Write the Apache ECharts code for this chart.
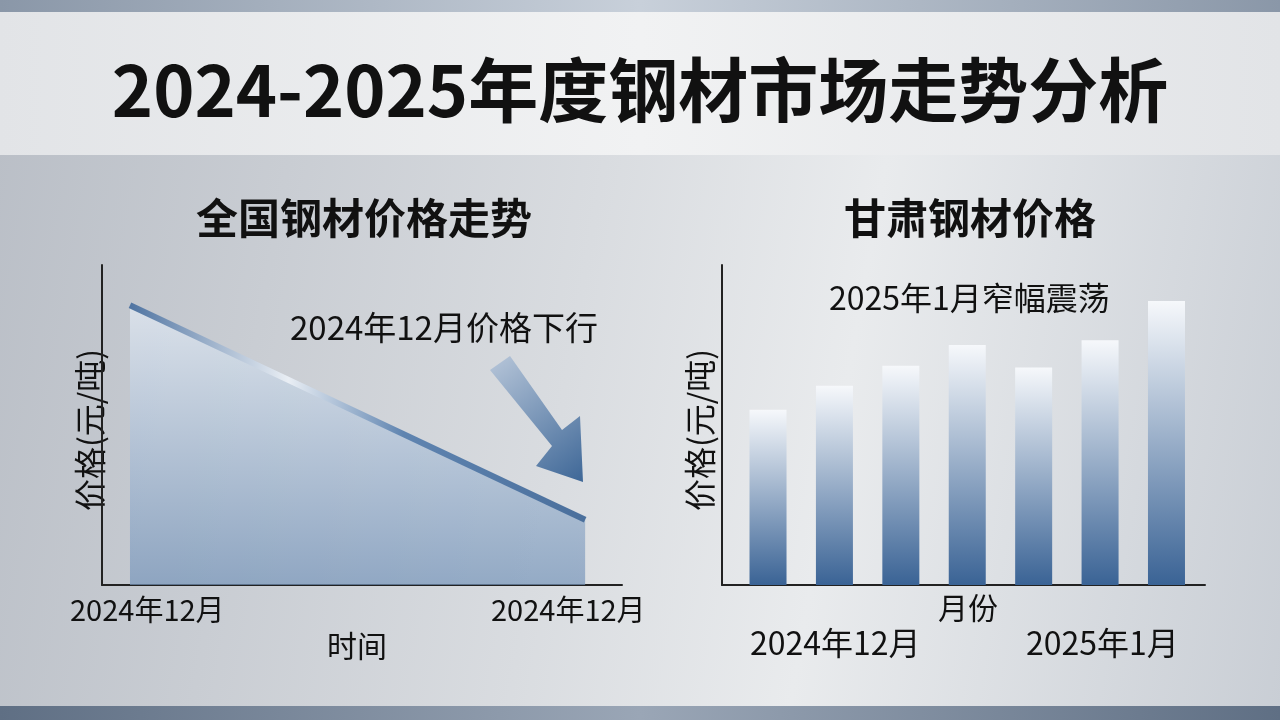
<!DOCTYPE html>
<html><head><meta charset="utf-8">
<script src="https://cdn.jsdelivr.net/npm/echarts@6/dist/echarts.min.js"></script>
<style>
html,body{margin:0;padding:0;}
body{width:1280px;height:720px;overflow:hidden;
background:linear-gradient(100deg,#b9bec6 0%,#d9dce0 45%,#e9ebed 65%,#c9ced5 100%);position:relative;}
#top{position:absolute;left:0;top:0;width:1280px;height:12px;background:linear-gradient(90deg,#8a97a8,#c8d0da,#8a97a8);}
#band{position:absolute;left:0;top:12px;width:1280px;height:143px;background:linear-gradient(90deg,#e2e4e7,#f1f2f3,#e2e4e7);}
#bot{position:absolute;left:0;top:706px;width:1280px;height:14px;background:linear-gradient(90deg,#5f6f84,#9aa6b6,#5f6f84);}
#c{position:absolute;left:0;top:0;width:1280px;height:720px;}
</style></head><body>
<div id="top"></div><div id="band"></div><div id="bot"></div>
<div id="c"></div>
<script>
// 全国钢材价格走势
const nationalX = [0, 1];
const nationalPrice = [3937, 3602];
// 甘肃钢材价格
const gansuIdx = [0, 1, 2, 3, 4, 5, 6];
const gansuPrice = [3719, 3749, 3774, 3800, 3772, 3806, 3855];

const font = '"Noto Sans CJK SC", sans-serif';
const chart = echarts.init(document.getElementById('c'));
const axisLine = { show: true, onZero: false, lineStyle: { color: '#222', width: 2 } };
const hidden = { axisTick: { show: false }, axisLabel: { show: false }, splitLine: { show: false } };

chart.setOption({
    backgroundColor: 'transparent',
    textStyle: { fontFamily: font },
    title: [
        { text: '2024-2025年度钢材市场走势分析', left: 'center', top: 50,
          textStyle: { fontSize: 70, fontWeight: 'bold', color: '#111', fontFamily: font } },
        { text: '全国钢材价格走势', left: 359, textAlign: 'center', top: 192,
          textStyle: { fontSize: 42, fontWeight: 'bold', color: '#111', fontFamily: font } },
        { text: '甘肃钢材价格', left: 965, textAlign: 'center', top: 192,
          textStyle: { fontSize: 42, fontWeight: 'bold', color: '#111', fontFamily: font } }
    ],
    grid: [
        { left: 102, top: 265, width: 520, height: 320 },
        { left: 722, top: 265, width: 483, height: 320 }
    ],
    xAxis: [
        { type: 'value', gridIndex: 0, min: -0.0615, max: 1.081, axisLine, ...hidden },
        { type: 'value', gridIndex: 1, min: -0.693, max: 6.58, axisLine, ...hidden }
    ],
    yAxis: [
        { type: 'value', gridIndex: 0, min: 3500, max: 4000, axisLine, ...hidden },
        { type: 'value', gridIndex: 1, min: 3500, max: 3900, axisLine, ...hidden }
    ],
    series: [
        {
            type: 'line', xAxisIndex: 0, yAxisIndex: 0, symbol: 'none',
            data: nationalX.map((x, i) => [x, nationalPrice[i]]),
            lineStyle: { width: 6, color: new echarts.graphic.LinearGradient(0, 0, 1, 0, [
                { offset: 0, color: '#4d72a0' }, { offset: 0.35, color: '#e9eef4' },
                { offset: 0.6, color: '#5f84b0' }, { offset: 1, color: '#4a6f9c' }]) },
            areaStyle: { origin: 'start', color: new echarts.graphic.LinearGradient(0, 0, 0, 1, [
                { offset: 0, color: '#e3ebf4' }, { offset: 1, color: '#7594b9' }]) }
        },
        {
            type: 'bar', xAxisIndex: 1, yAxisIndex: 1, barWidth: 37,
            data: gansuIdx.map((x, i) => [x, gansuPrice[i]]),
            itemStyle: { color: new echarts.graphic.LinearGradient(0, 0, 0, 1, [
                { offset: 0, color: '#f6f8fb' }, { offset: 1, color: '#3a6395' }]) }
        }
    ],
    graphic: [
        { type: 'text', left: 70, top: 595, style: { text: '2024年12月', fontSize: 29, fill: '#111', fontFamily: font } },
        { type: 'text', left: 491, top: 595, style: { text: '2024年12月', fontSize: 29, fill: '#111', fontFamily: font } },
        { type: 'text', left: 327, top: 631, style: { text: '时间', fontSize: 30, fill: '#111', fontFamily: font } },
        { type: 'text', x: 90, y: 430, rotation: Math.PI / 2,
          style: { text: '价格(元/吨)', fontSize: 32, fill: '#111', fontFamily: font, align: 'center', verticalAlign: 'middle' } },
        { type: 'text', x: 700, y: 430, rotation: Math.PI / 2,
          style: { text: '价格(元/吨)', fontSize: 32, fill: '#111', fontFamily: font, align: 'center', verticalAlign: 'middle' } },
        { type: 'text', left: 290, top: 311, style: { text: '2024年12月价格下行', fontSize: 33, fill: '#111', fontFamily: font } },
        { type: 'text', left: 829, top: 282, style: { text: '2025年1月窄幅震荡', fontSize: 32, fill: '#111', fontFamily: font } },
        { type: 'text', left: 938, top: 593, style: { text: '月份', fontSize: 30, fill: '#111', fontFamily: font } },
        { type: 'text', left: 750, top: 627, style: { text: '2024年12月', fontSize: 32, fill: '#111', fontFamily: font } },
        { type: 'text', left: 1026, top: 627, style: { text: '2025年1月', fontSize: 32, fill: '#111', fontFamily: font } },
        { type: 'polygon', shape: { points: [[490, 370], [510, 356], [562, 430], [580, 416], [583, 482], [536, 466], [552, 446]] },
          style: { fill: new echarts.graphic.LinearGradient(0, 0, 1, 1, [
              { offset: 0, color: '#b7c6d9' }, { offset: 1, color: '#3e6797' }]) } }
    ]
});
</script>
</body></html>
